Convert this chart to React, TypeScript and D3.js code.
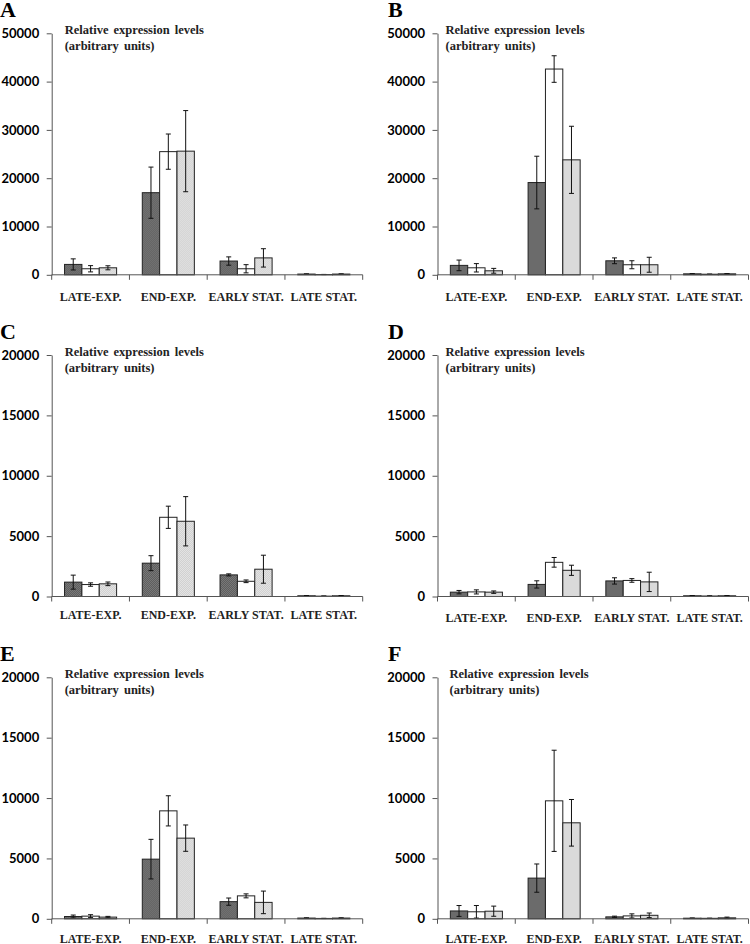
import * as d3 from "d3";
import { useEffect, useRef } from "react";

// growth phases on the x axis, three strains per phase
const categories = ["LATE-EXP.", "END-EXP.", "EARLY STAT.", "LATE STAT."];
const strains = ["dark", "white", "light"];
const panelLetters = ["A", "B", "C", "D", "E", "F"];
const yMaxes = [50000, 50000, 20000, 20000, 20000, 20000];
const ySteps = [10000, 10000, 5000, 5000, 5000, 5000];

// means, one row per phase: [dark, white, light]
const meanA = [[2150, 1250, 1450], [17000, 25500, 25600], [2850, 1250, 3500], [150, 60, 150]];
const errA = [[1150, 650, 420], [5300, 3650, 8400], [860, 850, 1900], [40, 20, 40]];
const meanB = [[1950, 1450, 830], [19100, 42600, 23800], [2900, 2080, 2080], [200, 120, 200]];
const errB = [[1100, 870, 500], [5450, 2750, 6950], [600, 830, 1550], [40, 20, 40]];
const meanC = [[1190, 990, 1050], [2760, 6560, 6230], [1790, 1260, 2260], [60, 30, 60]];
const errC = [[580, 140, 150], [620, 920, 2040], [85, 110, 1160], [20, 10, 20]];
const meanD = [[360, 380, 360], [1000, 2830, 2170], [1290, 1330, 1210], [60, 40, 60]];
const errD = [[140, 170, 100], [300, 400, 420], [260, 150, 800], [20, 10, 20]];
const meanE = [[190, 220, 140], [4940, 8940, 6680], [1420, 1900, 1360], [60, 30, 60]];
const errE = [[120, 120, 60], [1640, 1250, 1090], [300, 165, 935], [20, 10, 20]];
const meanF = [[650, 580, 630], [3370, 9770, 7950], [160, 240, 290], [50, 40, 80]];
const errF = [[450, 520, 420], [1170, 4190, 1930], [60, 170, 190], [20, 10, 60]];

const means = [meanA, meanB, meanC, meanD, meanE, meanF];
const errs = [errA, errB, errC, errD, errE, errF];

const App = () => {
  const svgRef = useRef<SVGSVGElement | null>(null);

  useEffect(() => {
    const W = 750;
    const H = 944;
    const axisX = [51.7, 437.5];
    const rowTop = [33.3, 355, 677.3];
    const plotW = 311;
    const plotH = 241.5;
    const labelDy = [26, 26, 22, 25, 24, 24];
    const legendDx = [13, 8, 13, 8, 13, 12];

    const svg = d3.select(svgRef.current);
    svg.selectAll("*").remove();
    svg.attr("width", W).attr("height", H);

    svg.append("rect").attr("width", W).attr("height", H).attr("fill", "white");

    const defs = svg.append("defs");
    const dark = defs
      .append("pattern")
      .attr("id", "darkFill")
      .attr("width", 2)
      .attr("height", 2)
      .attr("patternUnits", "userSpaceOnUse");
    dark.append("rect").attr("width", 2).attr("height", 2).attr("fill", "#8c8c8c");
    dark.append("rect").attr("width", 1).attr("height", 1).attr("fill", "#4a4a4a");
    dark.append("rect").attr("x", 1).attr("y", 1).attr("width", 1).attr("height", 1).attr("fill", "#4a4a4a");

    const light = defs
      .append("pattern")
      .attr("id", "lightFill")
      .attr("width", 2)
      .attr("height", 2)
      .attr("patternUnits", "userSpaceOnUse");
    light.append("rect").attr("width", 2).attr("height", 2).attr("fill", "#f0f0f0");
    light.append("rect").attr("width", 1).attr("height", 1).attr("fill", "#c4c4c4");
    light.append("rect").attr("x", 1).attr("y", 1).attr("width", 1).attr("height", 1).attr("fill", "#c4c4c4");

    const fills: Record<string, string> = {
      dark: "url(#darkFill)",
      white: "#ffffff",
      light: "url(#lightFill)",
    };

    panelLetters.forEach((letter, i) => {
      const col = i % 2;
      const row = Math.floor(i / 2);
      const g = svg
        .append("g")
        .attr("transform", `translate(${axisX[col]},${rowTop[row]})`);

      const y = d3.scaleLinear().domain([0, yMaxes[i]]).range([plotH, 0]);
      const x0 = d3.scaleBand().domain(categories).range([0, plotW]);
      const x1 = d3
        .scaleBand()
        .domain(strains)
        .range([0, x0.bandwidth()])
        .paddingInner(0)
        .paddingOuter(0.74);

      // panel letter
      svg
        .append("text")
        .attr("x", col === 0 ? 0 : 388)
        .attr("y", rowTop[row] - 16)
        .style("font-family", "'Liberation Serif', 'Times New Roman', serif")
        .style("font-weight", "bold")
        .style("font-size", "22px")
        .text(letter);

      // bars
      categories.forEach((c, ci) => {
        strains.forEach((s, si) => {
          const v = means[i][ci][si];
          g.append("rect")
            .attr("x", x0(c)! + x1(s)!)
            .attr("y", y(v))
            .attr("width", x1.bandwidth())
            .attr("height", plotH - y(v))
            .attr("fill", fills[s])
            .attr("stroke", "#222")
            .attr("stroke-width", 1);
        });
      });

      // error bars
      categories.forEach((c, ci) => {
        strains.forEach((s, si) => {
          const v = means[i][ci][si];
          const e = errs[i][ci][si];
          const cx = x0(c)! + x1(s)! + x1.bandwidth() / 2;
          const top = y(v + e);
          const bot = y(Math.max(0, v - e));
          g.append("line")
            .attr("x1", cx).attr("x2", cx)
            .attr("y1", top).attr("y2", bot)
            .attr("stroke", "#111").attr("stroke-width", 1);
          [top, bot].forEach((yy) => {
            g.append("line")
              .attr("x1", cx - 2.5).attr("x2", cx + 2.5)
              .attr("y1", yy).attr("y2", yy)
              .attr("stroke", "#111").attr("stroke-width", 1);
          });
        });
      });

      // y axis
      const yAxis = g
        .append("g")
        .call(
          d3
            .axisLeft(y)
            .tickValues(d3.range(0, yMaxes[i] + 1, ySteps[i]))
            .tickSize(5)
            .tickSizeOuter(0)
            .tickFormat(d3.format("d"))
        );
      yAxis.select(".domain").attr("stroke", "#555");
      yAxis.selectAll(".tick line").attr("stroke", "#555");
      yAxis
        .selectAll(".tick text")
        .attr("x", -12.5)
        .attr("fill", "#000")
        .style("font-family", "Lato, 'Open Sans', sans-serif")
        .style("font-weight", "bold")
        .style("font-size", "13px");

      // x axis with phase boundary ticks
      g.append("line")
        .attr("x1", 0).attr("x2", plotW)
        .attr("y1", plotH).attr("y2", plotH)
        .attr("stroke", "#555").attr("stroke-width", 1);
      const bounds = categories.map((c) => x0(c)!).concat([plotW]);
      bounds.forEach((bx) => {
        g.append("line")
          .attr("x1", bx).attr("x2", bx)
          .attr("y1", plotH).attr("y2", plotH + 5)
          .attr("stroke", "#555").attr("stroke-width", 1);
      });

      categories.forEach((c) => {
        g.append("text")
          .attr("x", x0(c)! + x0.bandwidth() / 2)
          .attr("y", plotH + labelDy[i])
          .attr("text-anchor", "middle")
          .attr("fill", "#222")
          .style("font-family", "'Liberation Serif', 'Times New Roman', serif")
          .style("font-weight", "bold")
          .style("font-size", "12px")
          .text(c);
      });

      // axis title inside plot
      const legend = g
        .append("text")
        .attr("fill", "#222")
        .style("font-family", "'Liberation Serif', 'Times New Roman', serif")
        .style("font-weight", "bold")
        .style("font-size", "12.5px")
        .style("word-spacing", "2px");
      legend.append("tspan").attr("x", legendDx[i]).attr("y", 1).text("Relative expression levels");
      legend.append("tspan").attr("x", legendDx[i]).attr("y", 17).text("(arbitrary units)");
    });
  }, []);

  return (
    <svg
      ref={svgRef}
      style={{ position: "absolute", left: 0, top: 0, display: "block" }}
    />
  );
};

export default App;
